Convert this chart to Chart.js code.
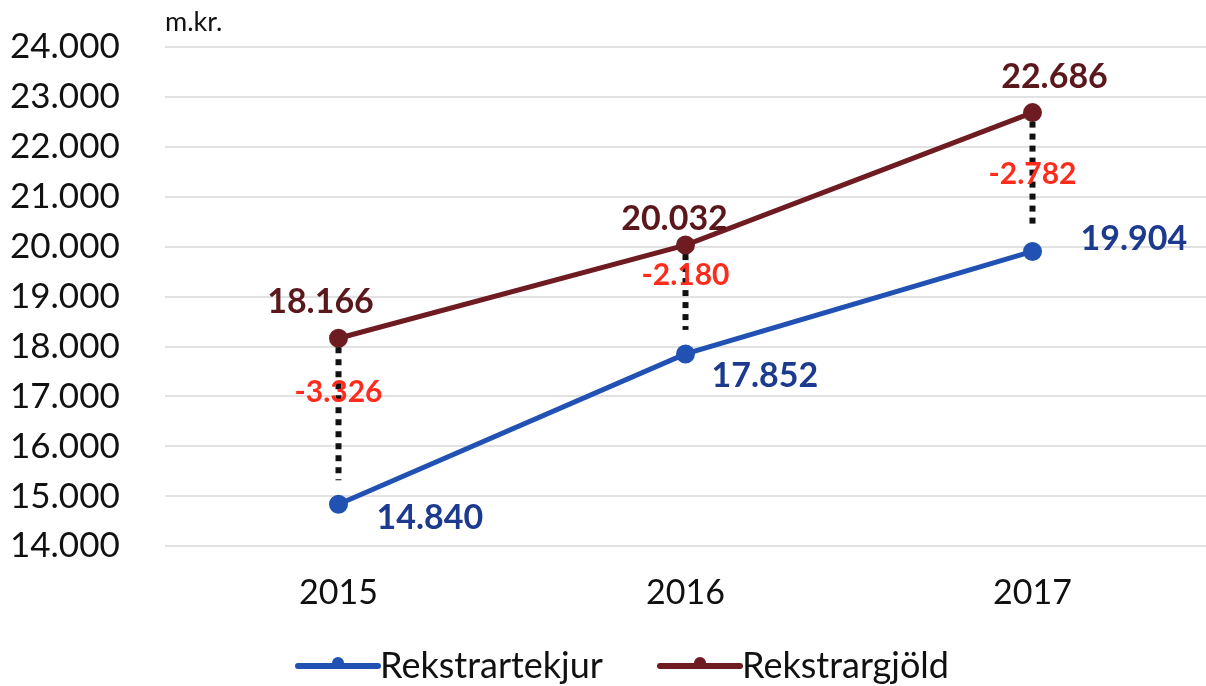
<!DOCTYPE html>
<html>
<head>
<meta charset="utf-8">
<script src="https://cdn.jsdelivr.net/npm/chart.js@4"></script>
<style>
  html, body { margin: 0; padding: 0; background: #fff; overflow: hidden; }
  #wrap { width: 1206px; height: 686px; position: relative; }
  canvas { display: block; }
</style>
</head>
<body>
<div id="wrap"><canvas id="chart-rekstur"></canvas></div>
<script>
const years = ['2015', '2016', '2017'];
const tekjur = [14840, 17852, 19904];
const gjold = [18166, 20032, 22686];
const mismunur = [-3326, -2180, -2782];

const blue = '#2152b3';
const blueText = '#1c3a8e';
const brown = '#6e1c22';
const brownText = '#5a181c';
const red = '#ff2b1c';
const font = 'Lato, "Open Sans", sans-serif';

// label offsets from their point, per year
const gjoldOff = [[-18, -36], [-11, -26], [22, -36]];
const tekjurOff = [[38, 14], [26, 22], [48, -12]];
const munurY = [[0, 54], [0, 30], [0, 62]];

// 14840 -> "14.840"
function fmt(v) {
    const s = Math.abs(v).toString().replace(/\B(?=(\d{3})+(?!\d))/g, '.');
    return (v < 0 ? '-' : '') + s;
}

const extras = {
    id: 'extras',
    afterDatasetsDraw(chart) {
        const ctx = chart.ctx;
        const top = chart.getDatasetMeta(1).data;
        const bottom = chart.getDatasetMeta(0).data;
        ctx.save();

        // dotted gap lines between the two series
        ctx.strokeStyle = '#111';
        ctx.lineWidth = 6;
        ctx.setLineDash([6, 6]);
        top.forEach((p, i) => {
            const q = bottom[i];
            ctx.beginPath();
            ctx.moveTo(p.x, p.y + 9);
            ctx.lineTo(q.x, q.y - 24);
            ctx.stroke();
        });
        ctx.setLineDash([]);

        ctx.font = 'bold 34px ' + font;
        ctx.textBaseline = 'middle';

        // brown values above the points
        ctx.fillStyle = brownText;
        ctx.textAlign = 'center';
        top.forEach((p, i) => {
            ctx.fillText(fmt(gjold[i]), p.x + gjoldOff[i][0], p.y + gjoldOff[i][1]);
        });

        // blue values below right
        ctx.fillStyle = blueText;
        ctx.textAlign = 'left';
        bottom.forEach((p, i) => {
            ctx.fillText(fmt(tekjur[i]), p.x + tekjurOff[i][0], p.y + tekjurOff[i][1]);
        });

        // differences
        ctx.font = 'bold 30px ' + font;
        ctx.fillStyle = red;
        ctx.textAlign = 'center';
        top.forEach((p, i) => {
            ctx.fillText(fmt(mismunur[i]), p.x + munurY[i][0], p.y + munurY[i][1]);
        });

        // unit label
        ctx.font = '27px ' + font;
        ctx.fillStyle = '#111';
        ctx.textAlign = 'left';
        ctx.fillText('m.kr.', 165, 22);

        // legend
        const items = [['Rekstrartekjur', blue, 298], ['Rekstrargjöld', brown, 660]];
        ctx.font = '36px ' + font;
        items.forEach(([label, color, x]) => {
            const y = 666;
            ctx.strokeStyle = color;
            ctx.lineWidth = 6;
            ctx.lineCap = 'round';
            ctx.beginPath();
            ctx.moveTo(x, y);
            ctx.lineTo(x + 80, y);
            ctx.stroke();
            ctx.fillStyle = color;
            ctx.beginPath();
            ctx.arc(x + 40, y - 3, 6, 0, Math.PI * 2);
            ctx.fill();
            ctx.fillStyle = '#111';
            ctx.textAlign = 'left';
            ctx.fillText(label, x + 82, y);
        });
        ctx.restore();
    }
};

new Chart(document.getElementById('chart-rekstur'), {
    type: 'line',
    data: {
        labels: years,
        datasets: [
            {
                label: 'Rekstrartekjur',
                data: tekjur,
                borderColor: blue,
                backgroundColor: blue,
                borderWidth: 5,
                pointRadius: 7,
                pointHoverRadius: 7,
                tension: 0,
            },
            {
                label: 'Rekstrargjöld',
                data: gjold,
                borderColor: brown,
                backgroundColor: brown,
                borderWidth: 5,
                pointRadius: 7,
                pointHoverRadius: 7,
                tension: 0,
            },
        ]
    },
    options: {
        responsive: true,
        maintainAspectRatio: false,
        animation: false,
        layout: { autoPadding: false, padding: { top: 47, right: 0, bottom: 55, left: 10 } },
        plugins: {
            legend: { display: false },
            tooltip: { enabled: false },
        },
        scales: {
            x: {
                offset: true,
                grid: { display: false },
                border: { display: false },
                ticks: { color: '#111', font: { family: font, size: 34 }, padding: 18, maxRotation: 0 },
            },
            y: {
                min: 14000,
                max: 24000,
                afterFit: scale => { scale.width = 155; },
                grid: { color: '#e2e2e2', lineWidth: 2, drawTicks: false },
                border: { display: false },
                ticks: {
                    stepSize: 1000,
                    autoSkip: false,
                    crossAlign: 'far',
                    color: '#111',
                    padding: 8,
                    font: { family: font, size: 35 },
                    callback: v => fmt(v),
                },
            }
        }
    },
    plugins: [extras]
});
</script>
</body>
</html>
